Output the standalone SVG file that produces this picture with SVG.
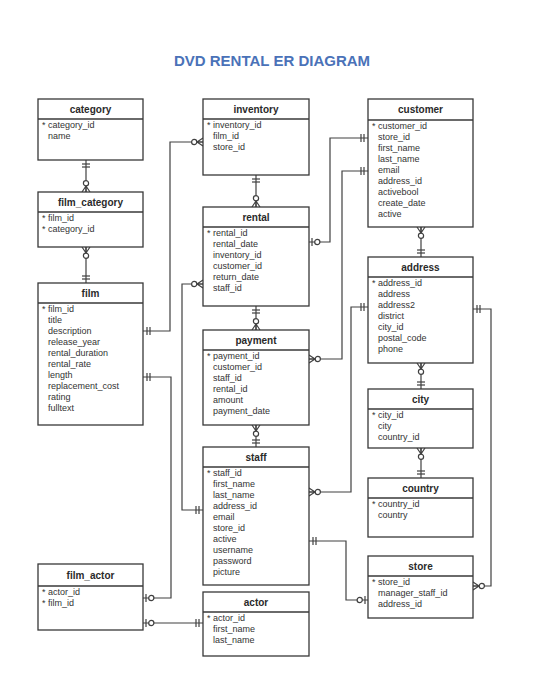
<svg xmlns="http://www.w3.org/2000/svg" xmlns:xlink="http://www.w3.org/1999/xlink" width="545" height="700" viewBox="0 0 545 700">
<style>
.box{fill:#fff;stroke:#383838;stroke-width:1.3}
.sep{stroke:#383838;stroke-width:1.3}
.hd{font-family:"Liberation Sans",Arial,sans-serif;font-size:10px;font-weight:bold;fill:#2a2a2a;text-anchor:middle}
.at{font-family:"Liberation Sans",Arial,sans-serif;font-size:9px;fill:#333}
.ln{fill:none;stroke:#404040;stroke-width:1.2}
.mk{fill:none;stroke:#404040;stroke-width:1.2}
.ci{fill:#fff;stroke:#404040;stroke-width:1.2}
.title{font-family:"Liberation Sans",Arial,sans-serif;font-size:15px;font-weight:bold;fill:#4a72b8;text-anchor:middle}
</style>
<defs>
<g id="one"><line class="mk" x1="4" y1="-4" x2="4" y2="4"/><line class="mk" x1="7" y1="-4" x2="7" y2="4"/></g>
<g id="many0"><path class="mk" d="M0,-4 L6,0 L0,4 M0,0 L6,0"/><circle class="ci" cx="8.8" cy="0" r="2.6"/></g>
<g id="one0"><line class="mk" x1="3" y1="-4" x2="3" y2="4"/><circle class="ci" cx="8.3" cy="0" r="2.6"/></g>
</defs>
<rect width="545" height="700" fill="#fff"/>
<text class="title" x="272" y="66">DVD RENTAL ER DIAGRAM</text>

<g id="connectors">
<path class="ln" d="M86,160 V192"/>
<path class="ln" d="M86,247 V283"/>
<path class="ln" d="M203,142 H170 V331 H143"/>
<path class="ln" d="M256,175 V207"/>
<path class="ln" d="M256,306 V330"/>
<path class="ln" d="M256,425 V447"/>
<path class="ln" d="M203,284 H182 V510 H203"/>
<path class="ln" d="M143,377 H171 V598 H143"/>
<path class="ln" d="M143,623 H203"/>
<path class="ln" d="M368,138 H330 V242 H309"/>
<path class="ln" d="M368,171 H342 V359 H309"/>
<path class="ln" d="M368,307 H351 V492 H309"/>
<path class="ln" d="M473,309 H491 V586 H473"/>
<path class="ln" d="M421,227 V257"/>
<path class="ln" d="M421,363 V389"/>
<path class="ln" d="M421,448 V478"/>
<path class="ln" d="M309,541 H346 V600 H368"/>
<use xlink:href="#one" transform="translate(86,160) rotate(90)"/>
<use xlink:href="#many0" transform="translate(86,192) rotate(-90)"/>
<use xlink:href="#many0" transform="translate(86,247) rotate(90)"/>
<use xlink:href="#one" transform="translate(86,283) rotate(-90)"/>
<use xlink:href="#many0" transform="translate(203,142) rotate(180)"/>
<use xlink:href="#one" transform="translate(143,331)"/>
<use xlink:href="#one" transform="translate(256,175) rotate(90)"/>
<use xlink:href="#many0" transform="translate(256,207) rotate(-90)"/>
<use xlink:href="#one" transform="translate(256,306) rotate(90)"/>
<use xlink:href="#many0" transform="translate(256,330) rotate(-90)"/>
<use xlink:href="#many0" transform="translate(256,425) rotate(90)"/>
<use xlink:href="#one" transform="translate(256,447) rotate(-90)"/>
<use xlink:href="#many0" transform="translate(203,284) rotate(180)"/>
<use xlink:href="#one" transform="translate(203,510) rotate(180)"/>
<use xlink:href="#one" transform="translate(143,377)"/>
<use xlink:href="#one0" transform="translate(143,598)"/>
<use xlink:href="#one0" transform="translate(143,623)"/>
<use xlink:href="#one" transform="translate(203,623) rotate(180)"/>
<use xlink:href="#one" transform="translate(368,138) rotate(180)"/>
<use xlink:href="#one0" transform="translate(309,242)"/>
<use xlink:href="#one" transform="translate(368,171) rotate(180)"/>
<use xlink:href="#many0" transform="translate(309,359)"/>
<use xlink:href="#one" transform="translate(368,307) rotate(180)"/>
<use xlink:href="#many0" transform="translate(309,492)"/>
<use xlink:href="#one" transform="translate(473,309)"/>
<use xlink:href="#many0" transform="translate(473,586)"/>
<use xlink:href="#many0" transform="translate(421,227) rotate(90)"/>
<use xlink:href="#one" transform="translate(421,257) rotate(-90)"/>
<use xlink:href="#many0" transform="translate(421,363) rotate(90)"/>
<use xlink:href="#one" transform="translate(421,389) rotate(-90)"/>
<use xlink:href="#many0" transform="translate(421,448) rotate(90)"/>
<use xlink:href="#one" transform="translate(421,478) rotate(-90)"/>
<use xlink:href="#one" transform="translate(309,541)"/>
<use xlink:href="#one0" transform="translate(368,600) rotate(180)"/>
</g>

<g id="category">
<rect class="box" x="38" y="99" width="105" height="61"/><line class="sep" x1="38" y1="119" x2="143" y2="119"/>
<text class="hd" x="90.5" y="113">category</text>
<text class="at" x="42" y="128">* category_id</text>
<text class="at" x="48" y="139">name</text>
</g>
<g id="film_category">
<rect class="box" x="38" y="192" width="105" height="55"/><line class="sep" x1="38" y1="212" x2="143" y2="212"/>
<text class="hd" x="90.5" y="206">film_category</text>
<text class="at" x="42" y="221">* film_id</text>
<text class="at" x="42" y="232">* category_id</text>
</g>
<g id="film">
<rect class="box" x="38" y="283" width="105" height="142"/><line class="sep" x1="38" y1="303" x2="143" y2="303"/>
<text class="hd" x="90.5" y="297">film</text>
<text class="at" x="42" y="312">* film_id</text>
<text class="at" x="48" y="323">title</text>
<text class="at" x="48" y="334">description</text>
<text class="at" x="48" y="345">release_year</text>
<text class="at" x="48" y="356">rental_duration</text>
<text class="at" x="48" y="367">rental_rate</text>
<text class="at" x="48" y="378">length</text>
<text class="at" x="48" y="389">replacement_cost</text>
<text class="at" x="48" y="400">rating</text>
<text class="at" x="48" y="411">fulltext</text>
</g>
<g id="film_actor">
<rect class="box" x="38" y="564" width="105" height="66"/><line class="sep" x1="38" y1="586" x2="143" y2="586"/>
<text class="hd" x="90.5" y="579">film_actor</text>
<text class="at" x="42" y="595">* actor_id</text>
<text class="at" x="42" y="606">* film_id</text>
</g>

<g id="inventory">
<rect class="box" x="203" y="99" width="106" height="76"/><line class="sep" x1="203" y1="119" x2="309" y2="119"/>
<text class="hd" x="256" y="113">inventory</text>
<text class="at" x="207" y="128">* inventory_id</text>
<text class="at" x="213" y="139">film_id</text>
<text class="at" x="213" y="150">store_id</text>
</g>
<g id="rental">
<rect class="box" x="203" y="207" width="106" height="99"/><line class="sep" x1="203" y1="227" x2="309" y2="227"/>
<text class="hd" x="256" y="221">rental</text>
<text class="at" x="207" y="236">* rental_id</text>
<text class="at" x="213" y="247">rental_date</text>
<text class="at" x="213" y="258">inventory_id</text>
<text class="at" x="213" y="269">customer_id</text>
<text class="at" x="213" y="280">return_date</text>
<text class="at" x="213" y="291">staff_id</text>
</g>
<g id="payment">
<rect class="box" x="203" y="330" width="106" height="95"/><line class="sep" x1="203" y1="350" x2="309" y2="350"/>
<text class="hd" x="256" y="344">payment</text>
<text class="at" x="207" y="359">* payment_id</text>
<text class="at" x="213" y="370">customer_id</text>
<text class="at" x="213" y="381">staff_id</text>
<text class="at" x="213" y="392">rental_id</text>
<text class="at" x="213" y="403">amount</text>
<text class="at" x="213" y="414">payment_date</text>
</g>
<g id="staff">
<rect class="box" x="203" y="447" width="106" height="138"/><line class="sep" x1="203" y1="467" x2="309" y2="467"/>
<text class="hd" x="256" y="461">staff</text>
<text class="at" x="207" y="476">* staff_id</text>
<text class="at" x="213" y="487">first_name</text>
<text class="at" x="213" y="498">last_name</text>
<text class="at" x="213" y="509">address_id</text>
<text class="at" x="213" y="520">email</text>
<text class="at" x="213" y="531">store_id</text>
<text class="at" x="213" y="542">active</text>
<text class="at" x="213" y="553">username</text>
<text class="at" x="213" y="564">password</text>
<text class="at" x="213" y="575">picture</text>
</g>
<g id="actor">
<rect class="box" x="203" y="592" width="106" height="64"/><line class="sep" x1="203" y1="612" x2="309" y2="612"/>
<text class="hd" x="256" y="606">actor</text>
<text class="at" x="207" y="621">* actor_id</text>
<text class="at" x="213" y="632">first_name</text>
<text class="at" x="213" y="643">last_name</text>
</g>

<g id="customer">
<rect class="box" x="368" y="99" width="105" height="128"/><line class="sep" x1="368" y1="120" x2="473" y2="120"/>
<text class="hd" x="420.5" y="113">customer</text>
<text class="at" x="372" y="129">* customer_id</text>
<text class="at" x="378" y="140">store_id</text>
<text class="at" x="378" y="151">first_name</text>
<text class="at" x="378" y="162">last_name</text>
<text class="at" x="378" y="173">email</text>
<text class="at" x="378" y="184">address_id</text>
<text class="at" x="378" y="195">activebool</text>
<text class="at" x="378" y="206">create_date</text>
<text class="at" x="378" y="217">active</text>
</g>
<g id="address">
<rect class="box" x="368" y="257" width="105" height="106"/><line class="sep" x1="368" y1="277" x2="473" y2="277"/>
<text class="hd" x="420.5" y="271">address</text>
<text class="at" x="372" y="286">* address_id</text>
<text class="at" x="378" y="297">address</text>
<text class="at" x="378" y="308">address2</text>
<text class="at" x="378" y="319">district</text>
<text class="at" x="378" y="330">city_id</text>
<text class="at" x="378" y="341">postal_code</text>
<text class="at" x="378" y="352">phone</text>
</g>
<g id="city">
<rect class="box" x="368" y="389" width="105" height="59"/><line class="sep" x1="368" y1="409" x2="473" y2="409"/>
<text class="hd" x="420.5" y="403">city</text>
<text class="at" x="372" y="418">* city_id</text>
<text class="at" x="378" y="429">city</text>
<text class="at" x="378" y="440">country_id</text>
</g>
<g id="country">
<rect class="box" x="368" y="478" width="105" height="59"/><line class="sep" x1="368" y1="498" x2="473" y2="498"/>
<text class="hd" x="420.5" y="492">country</text>
<text class="at" x="372" y="507">* country_id</text>
<text class="at" x="378" y="518">country</text>
</g>
<g id="store">
<rect class="box" x="368" y="556" width="105" height="62"/><line class="sep" x1="368" y1="576" x2="473" y2="576"/>
<text class="hd" x="420.5" y="570">store</text>
<text class="at" x="372" y="585">* store_id</text>
<text class="at" x="378" y="596">manager_staff_id</text>
<text class="at" x="378" y="607">address_id</text>
</g>
</svg>
